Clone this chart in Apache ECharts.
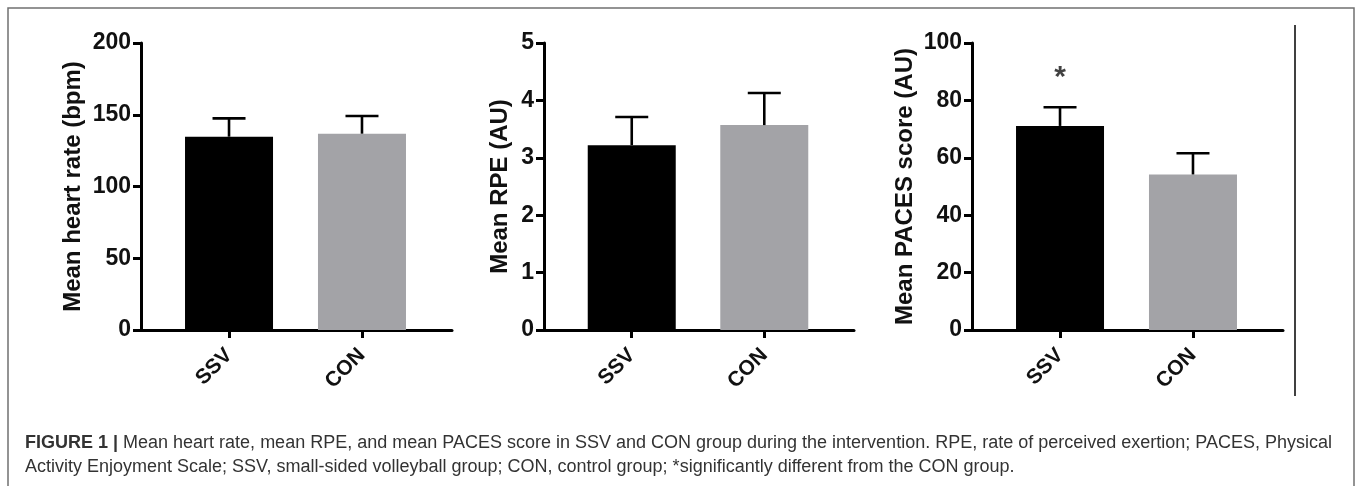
<!DOCTYPE html>
<html>
<head>
<meta charset="utf-8">
<script src="https://cdn.jsdelivr.net/npm/echarts@6/dist/echarts.min.js"></script>
<style>
    html, body {margin: 0; padding: 0; background: #fff;}
    #main {width: 1358px; height: 486px;}
</style>
</head>
<body>
<div id="main"></div>
<script>
// 数据 —— 两组：小场排球 / 对照
var groups = ['SSV', 'CON'];
var hrMean = [134.7, 136.8];
var hrSd = [12.8, 12.3];
var rpeMean = [3.22, 3.57];
var rpeSd = [0.49, 0.56];
var pacesMean = [71.1, 54.2];
var pacesSd = [6.5, 7.4];
var sigMarks = ['*', ''];
var sigLevel = [90, 0];

var captionLine1 = 'Mean heart rate, mean RPE, and mean PACES score in SSV and CON group during the intervention. RPE, rate of perceived exertion; PACES, Physical';
var captionLine2 = 'Activity Enjoyment Scale; SSV, small-sided volleyball group; CON, control group; *significantly different from the CON group.';

var chart = echarts.init(document.getElementById('main'));
var font = 'Liberation Sans, Arial, sans-serif';
var barColors = ['#000000', '#a3a3a7'];

function barData(means) {
    return means.map(function (v, i) {
        return {value: [i + 1, v], itemStyle: {color: barColors[i]}};
    });
}

function errData(means, sds) {
    return means.map(function (v, i) {
        return [i + 1, v, v + sds[i]];
    });
}

// 误差线（只画上半部分）
function renderErr(params, api) {
    var x = api.value(0);
    var pLo = api.coord([x, api.value(1)]);
    var pHi = api.coord([x, api.value(2)]);
    var half = 16.5;
    var st = {stroke: '#000', lineWidth: 2.6};
    return {
        type: 'group',
        children: [
            {type: 'line', shape: {x1: pLo[0], y1: pLo[1], x2: pHi[0], y2: pHi[1]}, style: st},
            {type: 'line', shape: {x1: pHi[0] - half, y1: pHi[1], x2: pHi[0] + half, y2: pHi[1]}, style: st}
        ]
    };
}

function makeX(idx) {
    return {
        gridIndex: idx,
        type: 'value',
        min: 0.338,
        max: 2.677,
        splitLine: {show: false},
        axisLine: {lineStyle: {color: '#000', width: 3}},
        axisTick: {show: true, customValues: [1, 2], length: 8, lineStyle: {color: '#000', width: 3}},
        axisLabel: {
            customValues: [1, 2],
            rotate: 45,
            margin: 22,
            fontSize: 21,
            fontWeight: 'bold',
            fontFamily: font,
            color: '#111',
            formatter: function (v) {
                return groups[Math.round(v) - 1];
            }
        }
    };
}

function makeY(idx, max, interval, name, gap) {
    return {
        gridIndex: idx,
        type: 'value',
        min: 0,
        max: max,
        interval: interval,
        name: name,
        nameLocation: 'middle',
        nameRotate: 90,
        nameGap: gap,
        nameTextStyle: {fontSize: 24, fontWeight: 'bold', fontFamily: font, color: '#111'},
        splitLine: {show: false},
        axisLine: {show: true, lineStyle: {color: '#000', width: 3}},
        axisTick: {show: true, length: 8, lineStyle: {color: '#000', width: 3}},
        axisLabel: {margin: 10, fontSize: 23, fontWeight: 'bold', fontFamily: font, color: '#111'}
    };
}

var option = {
    animation: false,
    backgroundColor: '#fff',
    grid: [
        {left: 141, top: 43, width: 311, height: 287, outerBoundsMode: 'none'},
        {left: 544, top: 43, width: 310, height: 287, outerBoundsMode: 'none'},
        {left: 972, top: 43, width: 311, height: 287, outerBoundsMode: 'none'}
    ],
    xAxis: [makeX(0), makeX(1), makeX(2)],
    yAxis: [
        makeY(0, 200, 50, 'Mean heart rate (bpm)', 56),
        makeY(1, 5, 1, 'Mean RPE (AU)', 32),
        makeY(2, 100, 20, 'Mean PACES score (AU)', 55)
    ],
    series: [
        // 平均心率
        {type: 'bar', xAxisIndex: 0, yAxisIndex: 0, barWidth: 88, data: barData(hrMean)},
        {type: 'custom', xAxisIndex: 0, yAxisIndex: 0, renderItem: renderErr, data: errData(hrMean, hrSd), z: 5},
        // 平均RPE
        {type: 'bar', xAxisIndex: 1, yAxisIndex: 1, barWidth: 88, data: barData(rpeMean)},
        {type: 'custom', xAxisIndex: 1, yAxisIndex: 1, renderItem: renderErr, data: errData(rpeMean, rpeSd), z: 5},
        // 平均PACES得分
        {type: 'bar', xAxisIndex: 2, yAxisIndex: 2, barWidth: 88, data: barData(pacesMean)},
        {type: 'custom', xAxisIndex: 2, yAxisIndex: 2, renderItem: renderErr, data: errData(pacesMean, pacesSd), z: 5},
        // 显著性标记
        {
            type: 'scatter',
            xAxisIndex: 2,
            yAxisIndex: 2,
            symbolSize: 0,
            data: sigMarks.map(function (m, i) {
                return {value: [i + 1, sigLevel[i]], mark: m};
            }).filter(function (d) { return d.mark; }),
            label: {
                show: true,
                position: 'inside',
                offset: [0, 6],
                fontSize: 30,
                fontWeight: 'bold',
                fontFamily: font,
                color: '#111',
                formatter: function (p) { return p.data.mark; }
            }
        }
    ],
    graphic: [
        // 外框
        {type: 'rect', shape: {x: 8, y: 8, width: 1346, height: 500}, style: {fill: 'none', stroke: '#707070', lineWidth: 1.5}, silent: true},
        // 右侧竖线
        {type: 'line', shape: {x1: 1295, y1: 25, x2: 1295, y2: 396}, style: {stroke: '#000', lineWidth: 1.5}},
        // 图注
        {
            type: 'text',
            left: 25,
            top: 431,
            style: {
                text: '{b|FIGURE 1 |} ' + captionLine1 + '\n' + captionLine2,
                font: '18px ' + font,
                fill: '#333',
                lineHeight: 24,
                rich: {
                    b: {fontWeight: 'bold', fontSize: 18, fontFamily: font, fill: '#333', lineHeight: 24}
                }
            }
        }
    ]
};

chart.setOption(option);
</script>
</body>
</html>
